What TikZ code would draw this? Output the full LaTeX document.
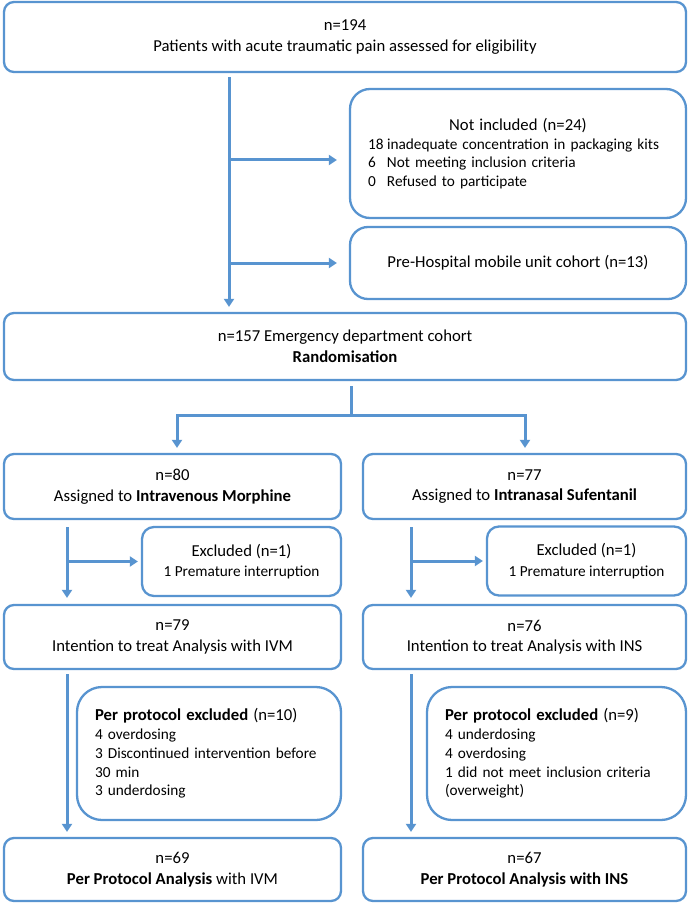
\documentclass[tikz,border=0pt]{standalone}
\usepackage{fontspec}
\setmainfont{Carlito}
\usetikzlibrary{arrows.meta}
\definecolor{bl}{RGB}{88,148,208}
\newcommand\smtxt{\fontsize{15.3}{18.7}\selectfont}
\newcommand\bgtxt{\fontsize{16.7}{18.7}\selectfont}
\begin{document}
\begin{tikzpicture}[x=1pt,y=-1pt,
  box/.style={draw=bl, line width=2.3pt, rounded corners=10pt, fill=white, inner sep=0pt, align=center, font=\fontsize{16.7}{20.5}\selectfont, text=black},
  lst/.style={font=\smtxt, align=left},
  con/.style={draw=bl, line width=3pt},
  arr/.style={con, -{Triangle[length=8pt,width=10pt]}}]
\fill[white] (0,0) rectangle (690,904);
\node[box, minimum width=682pt, minimum height=70pt] (top) at (345,37) {n=194\\Patients with acute traumatic pain assessed for eligibility};
\node[box, lst, rounded corners=20pt, minimum width=336pt, minimum height=129pt, text width=300pt] (notinc) at (518,153.5) {\makebox[300pt][c]{\bgtxt Not included (n=24)}\\\makebox[19pt][l]{18}inadequate concentration in packaging kits\\\makebox[19pt][l]{6}Not meeting inclusion criteria\\\makebox[19pt][l]{0}Refused to participate};
\node[box, rounded corners=18pt, minimum width=336pt, minimum height=72pt] (pre) at (518,263) {Pre-Hospital mobile unit cohort (n=13)};
\node[box, minimum width=682pt, minimum height=67pt] (rand) at (345,346.5) {n=157 Emergency department cohort\\\textbf{Randomisation}};
\node[box, minimum width=337pt, minimum height=65pt] (assL) at (172.5,486.5) {n=80\\Assigned to \textbf{Intravenous Morphine}};
\node[box, minimum width=323pt, minimum height=65pt] (assR) at (524.5,486.5) {n=77\\Assigned to \textbf{Intranasal Sufentanil}};
\node[box, rounded corners=12pt, minimum width=199pt, minimum height=69pt] (excL) at (241.5,561.5) {Excluded (n=1)\\{\smtxt 1 Premature interruption}};
\node[box, rounded corners=12pt, minimum width=199pt, minimum height=69pt] (excR) at (586.5,561) {Excluded (n=1)\\{\smtxt 1 Premature interruption}};
\node[box, minimum width=337pt, minimum height=64pt] (ittL) at (172.5,637) {n=79\\Intention to treat Analysis with IVM};
\node[box, minimum width=323pt, minimum height=64pt] (ittR) at (524.5,637) {n=76\\Intention to treat Analysis with INS};
\node[box, lst, rounded corners=25pt, minimum width=264pt, minimum height=133pt, text width=228pt] (ppL) at (209,753.5) {{\bgtxt\textbf{Per protocol excluded} (n=10)}\\4 overdosing\\3 Discontinued intervention before\\30 min\\3 underdosing};
\node[box, lst, rounded corners=25pt, minimum width=259pt, minimum height=133pt, text width=223pt] (ppR) at (556.5,753.5) {{\bgtxt\textbf{Per protocol excluded} (n=9)}\\4 underdosing\\4 overdosing\\1 did not meet inclusion criteria\\(overweight)};
\node[box, minimum width=337pt, minimum height=63pt] (botL) at (172.5,869.5) {n=69\\\textbf{Per Protocol Analysis} with IVM};
\node[box, minimum width=323pt, minimum height=63pt] (botR) at (524.5,869.5) {n=67\\\textbf{Per Protocol Analysis with INS}};
\coordinate (mx) at (229,0);
\coordinate (split) at (351,415);
\coordinate (xL) at (177,0);
\coordinate (xR) at (525,0);
\coordinate (fL) at (67,0);
\coordinate (fR) at (411,0);
\coordinate (a1) at ([yshift=-6.5pt]notinc.west);
\draw[arr, shorten <=4pt, shorten >=5pt] (top.south -| mx) -- (rand.north -| mx);
\draw[arr, shorten >=12pt] (a1 -| mx) -- (a1);
\draw[arr, shorten >=12pt] (pre.west -| mx) -- (pre.west);
\draw[con, shorten <=5pt] (rand.south -| split) -- (split);
\draw[arr, shorten >=5pt] (split) -| (assL.north -| xL);
\draw[arr, shorten >=5pt] (split) -| (assR.north -| xR);
\draw[arr, shorten <=7pt, shorten >=6pt] (assL.south -| fL) -- (ittL.north -| fL);
\draw[arr, shorten >=3pt] (fL |- excL.west) -- (excL.west);
\draw[arr, shorten <=7pt, shorten >=6pt] (assR.south -| fR) -- (ittR.north -| fR);
\draw[arr, shorten >=3pt] (fR |- excR.west) -- (excR.west);
\draw[arr, shorten <=4pt, shorten >=5pt] (ittL.south -| fL) -- (botL.north -| fL);
\draw[arr, shorten <=4pt, shorten >=5pt] (ittR.south -| fR) -- (botR.north -| fR);
\end{tikzpicture}
\end{document}
